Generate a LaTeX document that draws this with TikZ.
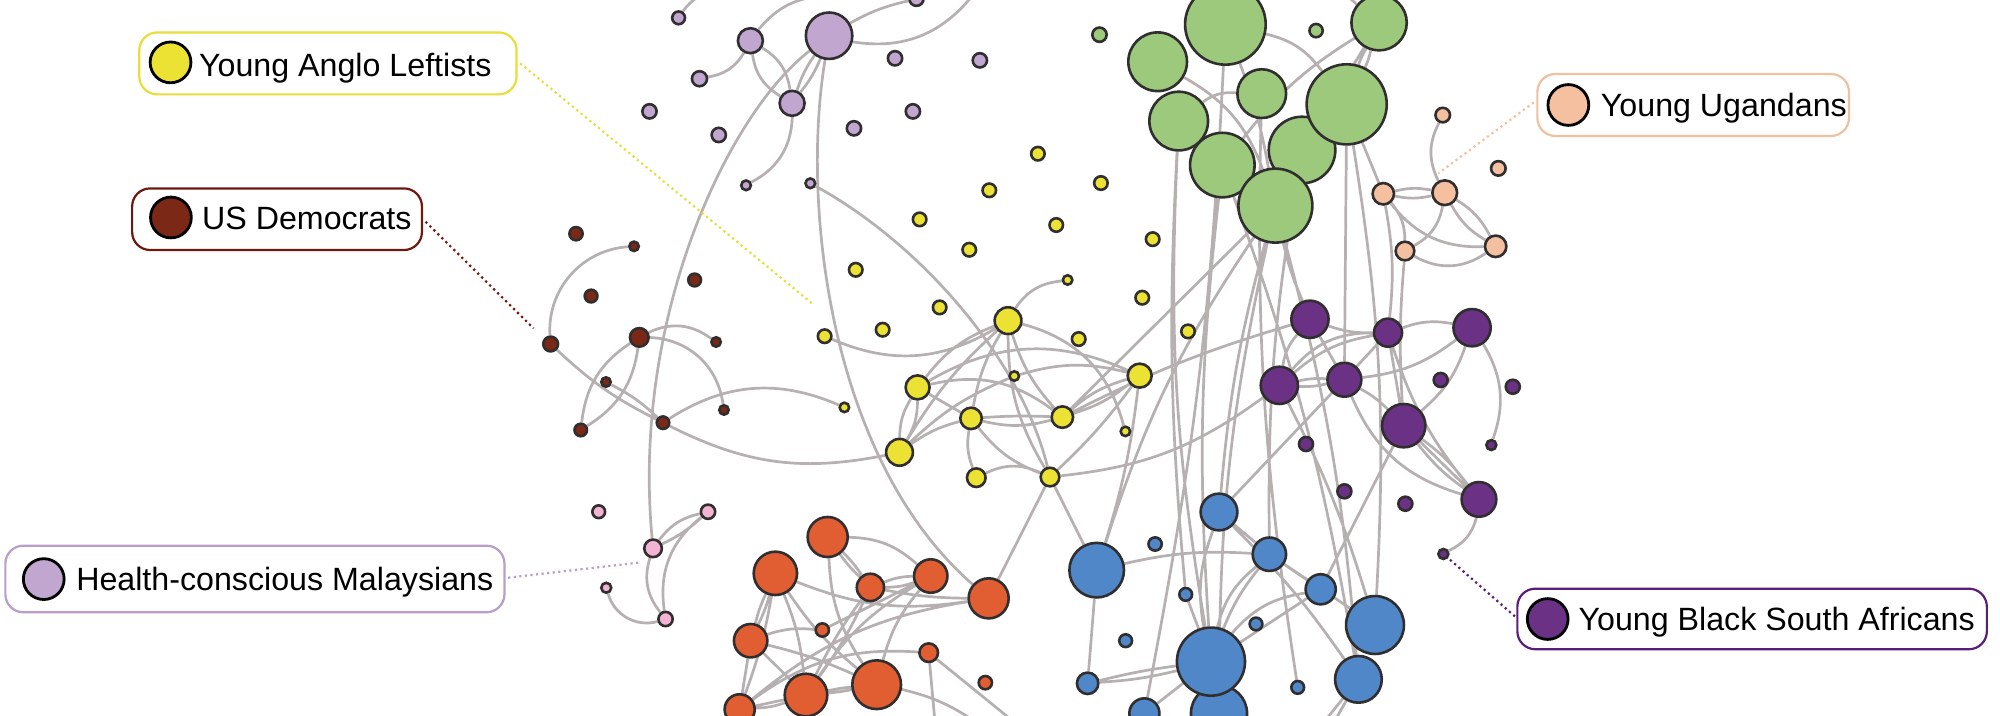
\documentclass[tikz,border=0pt]{standalone}
\usepackage{fontspec}
\setmainfont{Liberation Sans}
\pgfdeclarelayer{bg}
\pgfsetlayers{bg,main}
\definecolor{lil}{RGB}{193,166,208}
\definecolor{grn}{RGB}{157,201,124}
\definecolor{ylw}{RGB}{235,226,52}
\definecolor{pch}{RGB}{244,192,160}
\definecolor{pur}{RGB}{107,49,133}
\definecolor{blu}{RGB}{79,135,200}
\definecolor{org}{RGB}{225,94,51}
\definecolor{mar}{RGB}{123,40,22}
\definecolor{pnk}{RGB}{243,180,211}
\definecolor{ndline}{RGB}{48,46,46}
\definecolor{edgec}{RGB}{183,176,176}
\definecolor{bylw}{RGB}{232,222,58}
\definecolor{bmar}{RGB}{110,25,15}
\definecolor{blil}{RGB}{185,158,203}
\definecolor{bpch}{RGB}{238,193,160}
\definecolor{bpur}{RGB}{90,30,120}
\tikzset{
  nd/.style={circle, draw=ndline, line width=1.3pt, inner sep=0pt, minimum size=#1*1.2756pt},
  ed/.style={draw=edgec, line width=1.35pt},
  lbox/.style={fill=white, rounded corners=9pt, line width=1.1pt, inner sep=0pt},
  lcirc/.style={circle, draw=black, line width=1.4pt, inner sep=0pt, minimum size=20.4pt},
  ltext/.style={anchor=base west, inner sep=0pt, font=\fontsize{16.1pt}{18pt}\selectfont},
  lead/.style={line width=1.1pt, dash pattern=on 1.1pt off 1.7pt},
}
\begin{document}
\begin{tikzpicture}[x=0.6378pt, y=-0.6378pt]
\useasboundingbox (0,0) rectangle (1568,560.6);
\begin{pgfonlayer}{bg}
\fill[white] (0,0) rectangle (1568,560.6);
\end{pgfonlayer}

% ---------- lilac
\node[nd=5,fill=lil] (L1) at (532,14) {};
\node[nd=9.8,fill=lil] (L2) at (588.3,31.9) {};
\node[nd=18.2,fill=lil] (L3) at (650,28) {};
\node[nd=5.9,fill=lil] (L4) at (548.4,61.7) {};
\node[nd=9.8,fill=lil] (L5) at (621,81) {};
\node[nd=5.6,fill=lil] (L6) at (701.7,45.7) {};
\node[nd=5.6,fill=lil] (L7) at (768.2,47.3) {};
\node[nd=5.6,fill=lil] (L8) at (718.5,-1) {};
\node[nd=5.6,fill=lil] (L9) at (509.2,87.3) {};
\node[nd=5.6,fill=lil] (L10) at (715.7,87.3) {};
\node[nd=5.6,fill=lil] (L11) at (563.5,105.8) {};
\node[nd=5.6,fill=lil] (L12) at (669.5,100.6) {};
\node[nd=3.8,fill=lil] (L13) at (584.9,145.3) {};
\node[nd=3.8,fill=lil] (L14) at (635.3,143.7) {};

% ---------- green
\node[nd=5.6,fill=grn] (G0) at (862,27.2) {};
\node[nd=5.2,fill=grn] (G3) at (1031.8,24) {};
\node[nd=21.7,fill=grn] (G2) at (1081.2,17.8) {};
\node[nd=23,fill=grn] (G4) at (907.6,48.4) {};
\node[nd=31.6,fill=grn] (G1) at (960.7,19.1) {};
\node[nd=19.1,fill=grn] (G5) at (989.2,73.4) {};
\node[nd=23,fill=grn] (G7) at (924.1,94.9) {};
\node[nd=26.1,fill=grn] (G8) at (1020.8,117.6) {};
\node[nd=31.4,fill=grn] (G6) at (1055.8,81.8) {};
\node[nd=25.3,fill=grn] (G9) at (958.3,129.4) {};
\node[nd=29,fill=grn] (G10) at (999.9,161.2) {};

% ---------- peach
\node[nd=5.7,fill=pch] (P1) at (1131.1,90.2) {};
\node[nd=5.7,fill=pch] (P2) at (1174.7,132) {};
\node[nd=8.4,fill=pch] (P3) at (1084.5,151.9) {};
\node[nd=9.7,fill=pch] (P4) at (1132.7,151.1) {};
\node[nd=7.3,fill=pch] (P5) at (1101.5,196.8) {};
\node[nd=8.4,fill=pch] (P6) at (1172.6,193.1) {};

% ---------- yellow
\node[nd=5.3,fill=ylw] (Y1) at (813.7,120.5) {};
\node[nd=5.3,fill=ylw] (Y2) at (775.6,149.2) {};
\node[nd=5.3,fill=ylw] (Y3) at (863.1,143.5) {};
\node[nd=5.3,fill=ylw] (Y4) at (721,172) {};
\node[nd=5.3,fill=ylw] (Y5) at (828.1,176.4) {};
\node[nd=5.3,fill=ylw] (Y6) at (759.9,195.8) {};
\node[nd=5.3,fill=ylw] (Y7) at (903.7,187.5) {};
\node[nd=5.3,fill=ylw] (Y8) at (670.9,211.5) {};
\node[nd=3.7,fill=ylw] (Y9) at (837,219.5) {};
\node[nd=5.3,fill=ylw] (Y10) at (736.7,241) {};
\node[nd=5.3,fill=ylw] (Y11) at (895.5,233.4) {};
\node[nd=5.3,fill=ylw] (Y12) at (646.5,263.6) {};
\node[nd=5.3,fill=ylw] (Y13) at (692,258.5) {};
\node[nd=10.5,fill=ylw] (Y14) at (790.3,251.4) {};
\node[nd=5.3,fill=ylw] (Y15) at (845.7,265.8) {};
\node[nd=5.3,fill=ylw] (Y16) at (931.4,259.8) {};
\node[nd=3.7,fill=ylw] (Y17) at (795.2,294.8) {};
\node[nd=9.4,fill=ylw] (Y18) at (893.5,294.5) {};
\node[nd=9.4,fill=ylw] (Y19) at (719.4,303.7) {};
\node[nd=3.7,fill=ylw] (Y20) at (662,319.4) {};
\node[nd=8.4,fill=ylw] (Y21) at (761.3,328) {};
\node[nd=8.4,fill=ylw] (Y22) at (832.9,327) {};
\node[nd=3.7,fill=ylw] (Y23) at (882.3,338.2) {};
\node[nd=10.5,fill=ylw] (Y24) at (705.2,354.6) {};
\node[nd=7.3,fill=ylw] (Y25) at (765.4,374.5) {};
\node[nd=7.3,fill=ylw] (Y26) at (823.2,374) {};

% ---------- maroon
\node[nd=5.2,fill=mar] (M1) at (451.6,183.2) {};
\node[nd=3.7,fill=mar] (M2) at (497.1,193.1) {};
\node[nd=5,fill=mar] (M3) at (544.6,219.5) {};
\node[nd=5,fill=mar] (M4) at (463.4,232.1) {};
\node[nd=5.8,fill=mar] (M5) at (431.7,269.7) {};
\node[nd=7.3,fill=mar] (M6) at (501.2,264.5) {};
\node[nd=3.7,fill=mar] (M7) at (561.4,268.1) {};
\node[nd=3.7,fill=mar] (M8) at (475.1,299.5) {};
\node[nd=3.7,fill=mar] (M9) at (567.6,321.4) {};
\node[nd=4.9,fill=mar] (M10) at (519.8,331.4) {};
\node[nd=4.9,fill=mar] (M11) at (455.3,337.1) {};

% ---------- pink
\node[nd=5,fill=pnk] (K1) at (469.4,401.2) {};
\node[nd=5.6,fill=pnk] (K2) at (555.1,401.2) {};
\node[nd=6.9,fill=pnk] (K3) at (512,429.9) {};
\node[nd=3.9,fill=pnk] (K4) at (475.3,460.8) {};
\node[nd=5.6,fill=pnk] (K5) at (521.8,485.3) {};

% ---------- orange
\node[nd=15.7,fill=org] (O1) at (648.9,421) {};
\node[nd=17,fill=org] (O2) at (607.9,449.5) {};
\node[nd=10.7,fill=org] (O3) at (682.4,460.5) {};
\node[nd=13.1,fill=org] (O4) at (729.7,451.6) {};
\node[nd=15.7,fill=org] (O5) at (775.1,469.1) {};
\node[nd=13.1,fill=org] (O6) at (588.5,502.3) {};
\node[nd=5.2,fill=org] (O7) at (644.7,493.9) {};
\node[nd=7.3,fill=org] (O8) at (728.1,511.7) {};
\node[nd=19.1,fill=org] (O9) at (687.3,536.8) {};
\node[nd=16.7,fill=org] (O10) at (631.9,544.9) {};
\node[nd=11.8,fill=org] (O11) at (579.9,556.1) {};
\node[nd=5.2,fill=org] (O12) at (772.5,535.2) {};

% ---------- blue
\node[nd=14.4,fill=blu] (B1) at (955.7,401.4) {};
\node[nd=5.2,fill=blu] (B2) at (905.6,426.5) {};
\node[nd=13.1,fill=blu] (B3) at (995.2,434.5) {};
\node[nd=21.4,fill=blu] (B4) at (859.8,447) {};
\node[nd=5,fill=blu] (B5) at (929.6,466) {};
\node[nd=11.8,fill=blu] (B6) at (1035.4,462) {};
\node[nd=5,fill=blu] (B7) at (984.7,489.2) {};
\node[nd=5,fill=blu] (B8) at (882.5,502.3) {};
\node[nd=22.7,fill=blu] (B9) at (1078,490) {};
\node[nd=22,fill=blu] (B15) at (955.7,559.3) {};
\node[nd=26.7,fill=blu] (B10) at (949.4,518.7) {};
\node[nd=8.4,fill=blu] (B11) at (852.7,535.7) {};
\node[nd=5,fill=blu] (B12) at (1017.4,538.9) {};
\node[nd=18.3,fill=blu] (B13) at (1065,532.6) {};
\node[nd=11.8,fill=blu] (B14) at (897.2,559.3) {};

% ---------- purple
\node[nd=14.6,fill=pur] (U1) at (1027,250.3) {};
\node[nd=11,fill=pur] (U2) at (1088.2,260.8) {};
\node[nd=14.6,fill=pur] (U3) at (1154.1,256.9) {};
\node[nd=14.6,fill=pur] (U4) at (1003,302.1) {};
\node[nd=13.3,fill=pur] (U5) at (1054,297.7) {};
\node[nd=5.5,fill=pur] (U6) at (1129.5,297.9) {};
\node[nd=5.5,fill=pur] (U7) at (1186,303.2) {};
\node[nd=17,fill=pur] (U8) at (1100.5,333.7) {};
\node[nd=5.5,fill=pur] (U9) at (1023.9,348.1) {};
\node[nd=3.9,fill=pur] (U10) at (1169.2,348.9) {};
\node[nd=5.5,fill=pur] (U11) at (1054,385.2) {};
\node[nd=5.5,fill=pur] (U12) at (1101.8,394.9) {};
\node[nd=13.6,fill=pur] (U13) at (1159.5,391.5) {};
\node[nd=3.9,fill=pur] (U14) at (1131.6,434.3) {};

% ---------- free ends
\coordinate (t1) at (548,-3);
\coordinate (t2) at (640,-3);
\coordinate (t3) at (762,-3);
\coordinate (bb1) at (1038,566);
\coordinate (bb2) at (1046,566);
\coordinate (ob1) at (795,566);
\coordinate (ob2) at (733,566);
\coordinate (ob3) at (765,566);

% ---------- edges
\begin{pgfonlayer}{bg}
\path[ed]
 (L1) to[bend left=10] (t1)
 (L2) to[bend left=25] (L5)
 (L2) to[bend right=25] (L5)
 (L2) to[bend left=25] (L4)
 (L2) to[bend left=20] (t2)
 (L3) to[bend left=8] (L8)
 (L3) to[bend right=30] (t3)
 (L3) to[bend left=8] (L5)
 (L3) to[bend right=8] (L5)
 (L3) .. controls (570,90) and (495,250) .. (K3)
 (L3) .. controls (628,160) and (650,360) .. (O5)
 (L5) to[bend left=30] (L13)
 (L14) .. controls (720,190) and (800,280) .. (Y26)
 % maroon
 (M5) to[bend left=45] (M2)
 (M5) to[bend right=8] (M10)
 (M8) to[bend left=8] (M10)
 (M6) to[bend left=25] (M11)
 (M6) to[bend right=25] (M11)
 (M6) to[bend left=31] (M7)
 (M6) to[bend left=40] (M9)
 (M10) to[bend left=28] (Y20)
 (M10) to[bend right=19] (Y24)
 % pink
 (K3) to[bend left=20] (K2)
 (K3) to[bend right=8] (K2)
 (K2) to[bend right=30] (K5)
 (K3) to[bend right=28] (K5)
 (K4) to[bend right=45] (K5)
 % yellow
 (Y9) to[bend right=25] (Y14)
 (Y14) to[bend left=27] (Y12)
 (Y14) to[bend right=15] (Y19)
 (Y14) to[bend right=8] (Y24)
 (Y14) to[bend right=10] (Y21)
 (Y14) to[bend right=15] (Y26)
 (Y14) to[bend right=12] (Y22)
 (Y14) to[bend left=30] (Y23)
 (Y19) to[bend left=27] (Y18)
 (Y19) to[bend left=25] (Y22)
 (Y19) -- (Y21)
 (Y19) to[bend left=15] (Y24)
 (Y19) to[bend right=15] (Y24)
 (Y21) to[bend left=3] (Y22)
 (Y21) to[bend right=14] (Y22)
 (Y17) to[bend left=15] (Y18)
 (Y22) to[bend left=12] (Y18)
 (Y22) to[bend right=10] (Y18)
 (Y24) to[bend left=10] (Y17)
 (Y24) to[bend left=10] (Y21)
 (Y21) to[bend right=15] (Y25)
 (Y21) to[bend right=15] (Y26)
 (Y25) to[bend left=25] (Y26)
 (Y26) to[bend right=5] (Y18)
 (Y26) to[bend right=15] (U4)
 (Y22) to[bend left=5] (U1)
 % cross
 (B4) -- (Y26)
 (O5) -- (Y26)
 (B4) to[bend right=5] (Y18)
 (B4) to[bend left=8] (B3)
 (B4) -- (B11)
 % green
 (G1) to[bend left=40] (G2)
 (G7) to[bend left=20] (G5)
 (G4) to[bend left=20] (G10)
 (G1) to[bend left=20] (G6)
 (G1) to[bend left=5] (G10)
 (G2) -- (G8)
 (G2) to[bend right=10] (G9)
 (G2) to[bend left=5] (G6)
 (G2) to[bend right=5] (G6)
 (G6) -- (P3)
 (G10) -- (Y22)
 (G10) to[bend right=5] (U1)
 (G10) to[bend right=5] (B1)
 (G10) to[bend right=8] (B4)
 (G6) -- (U5)
 (G7) to[bend right=4] (B5)
 (G7) to[bend right=6] (B10)
 (G9) to[bend right=5] (B10)
 (G9) to[bend left=5] (B13)
 (G1) to[bend left=4] (B14)
 (G10) to[bend left=5] (B13)
 (G10) to[bend right=6] (B15)
 (G6) to[bend left=6] (B9)
 (G8) to[bend right=5] (B3)
 (G5) to[bend right=5] (B12)
 % peach
 (P1) to[bend right=27] (P4)
 (P3) to[bend left=12] (P4)
 (P3) to[bend right=12] (P4)
 (P3) to[bend right=27] (P6)
 (P3) to[bend left=20] (P5)
 (P4) to[bend left=25] (P5)
 (P4) to[bend left=15] (P6)
 (P4) to[bend right=15] (P6)
 (P5) to[bend right=32] (P6)
 (P3) to[bend left=8] (U2)
 (P5) to[bend right=4] (U8)
 % purple
 (U1) to[bend right=10] (U2)
 (U1) -- (U5)
 (U1) to[bend right=15] (U4)
 (U4) to[bend left=8] (U5)
 (U4) to[bend right=8] (U5)
 (U4) to[bend left=15] (U2)
 (U4) to[bend left=25] (U2)
 (U5) -- (U2)
 (U5) to[bend right=15] (U3)
 (U2) to[bend left=15] (U3)
 (U5) to[bend left=8] (U8)
 (U5) to[bend right=25] (U13)
 (U8) to[bend left=8] (U13)
 (U8) -- (U13)
 (U8) to[bend right=8] (U13)
 (U2) to[bend right=10] (U13)
 (U2) -- (U8)
 (U3) to[bend left=15] (U8)
 (U3) to[bend left=25] (U10)
 (U13) to[bend left=25] (U14)
 (U8) -- (B6)
 (B1) -- (U5)
 (U4) to[bend left=5] (B9)
 % blue
 (B10) to[bend left=15] (B1)
 (B10) to[bend left=8] (B3)
 (B10) to[bend left=18] (B3)
 (B10) to[bend left=20] (B6)
 (B10) -- (B6)
 (B1) -- (B3)
 (B1) to[bend left=5] (B13)
 (B3) -- (B9)
 (B3) -- (B6)
 (B14) -- (B10)
 (B11) to[bend left=3] (B10)
 (B11) to[bend right=5] (B10)
 (B5) -- (B10)
 (B13) -- (bb1)
 (B13) -- (bb2)
 % orange
 (O1) to[bend left=20] (O4)
 (O1) to[bend left=5] (O3)
 (O1) to[bend right=5] (O3)
 (O1) to[bend right=15] (O9)
 (O2) to[bend right=15] (O5)
 (O3) to[bend right=5] (O5)
 (O3) to[bend left=10] (O4)
 (O3) to[bend right=10] (O4)
 (O4) to[bend right=12] (O10)
 (O3) to[bend right=5] (O10)
 (O3) to[bend left=5] (O10)
 (O2) to[bend left=5] (O6)
 (O2) to[bend right=5] (O6)
 (O2) to[bend left=8] (O10)
 (O2) to[bend left=5] (O11)
 (O2) to[bend right=8] (O9)
 (O6) to[bend left=12] (O7)
 (O7) -- (O4)
 (O6) -- (O10)
 (O6) -- (O11)
 (O6) to[bend left=5] (O9)
 (O11) -- (O10)
 (O11) to[bend right=8] (O10)
 (O11) to[bend left=20] (O8)
 (O11) to[bend left=15] (O5)
 (O4) to[bend right=12] (O9)
 (O9) to[bend left=3] (O10)
 (O9) to[bend right=3] (O10)
 (O8) -- (ob1)
 (O8) -- (ob2)
 (O9) to[bend left=10] (ob3);
\end{pgfonlayer}

% ---------- labels
\node[lbox, draw=bylw, minimum width=295.8*0.6378pt, minimum height=48.6*0.6378pt] (lab1) at (257.1,49.7) {};
\node[lcirc, fill=ylw] (c1) at (133.7,48.9) {};
\node[ltext] (x1) at (155.8,60.1) {Young Anglo Leftists};

\node[lbox, draw=bmar, minimum width=227.2*0.6378pt, minimum height=48.3*0.6378pt] (lab2) at (217.2,171.85) {};
\node[lcirc, fill=mar] (c2) at (134,170.5) {};
\node[ltext] (x2) at (158.2,180.3) {US Democrats};

\node[lbox, draw=blil, minimum width=391.3*0.6378pt, minimum height=52.2*0.6378pt] (lab3) at (199.85,453.9) {};
\node[lcirc, fill=lil] (c3) at (34.3,454) {};
\node[ltext] (x3) at (59.5,463.1) {Health-conscious Malaysians};

\node[lbox, draw=bpch, minimum width=244.3*0.6378pt, minimum height=48.6*0.6378pt] (lab4) at (1327.45,82.3) {};
\node[lcirc, fill=pch] (c4) at (1229.6,82.3) {};
\node[ltext] (x4) at (1254.8,91.5) {Young Ugandans};

\node[lbox, draw=bpur, minimum width=368.1*0.6378pt, minimum height=47.5*0.6378pt] (lab5) at (1373.65,485.25) {};
\node[lcirc, fill=pur] (c5) at (1213.4,485.3) {};
\node[ltext] (x5) at (1237.3,494.5) {Young Black South Africans};

% ---------- leader lines
\coordinate (k1) at (637.2,238.3);
\coordinate (k2) at (418.3,257.4);
\coordinate (k3) at (502.2,440.9);
\coordinate (k4) at (1127.7,135.9);
\coordinate (k5) at (1135.5,437.7);
\draw[lead, draw=bylw] (lab1.east) ++(2,0) coordinate (s1) (s1) -- (k1);
\draw[lead, draw=bmar] (lab2.east) ++(2,2) coordinate (s2) (s2) -- (k2);
\draw[lead, draw=blil] (lab3.east) ++(2,-1) coordinate (s3) (s3) -- (k3);
\draw[lead, draw=bpch] (lab4.west) ++(-2,-2) coordinate (s4) (s4) -- (k4);
\draw[lead, draw=bpur] (lab5.west) ++(-1,-2) coordinate (s5) (s5) -- (k5);
\end{tikzpicture}
\end{document}
